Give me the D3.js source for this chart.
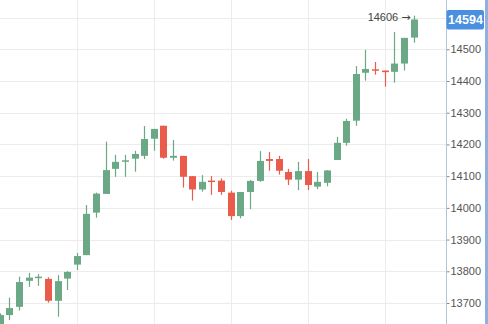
<!DOCTYPE html>
<html>
<head>
<meta charset="utf-8">
<script src="https://cdn.jsdelivr.net/npm/d3@7"></script>
<style>
  body { margin: 0; background: #fff; }
  svg { display: block; font-family: "Liberation Sans", Arial, sans-serif; }
</style>
</head>
<body>
<div id="plot"></div>
<script>
// candle values, one per session
var opens  = [13620,13662,13688,13770,13782,13776,13707,13777,13821,13851,13985,14044,14123,14146,14155,14164,14218,14259,14158,14164,14100,14058,14086,14086,14048,13974,14050,14085,14154,14154,14113,14089,14116,14067,14079,14151,14205,14275,14426,14437,14433,14429,14455,14537];
var highs  = [13668,13717,13783,13795,13791,13781,13788,13800,13858,14009,14048,14209,14167,14167,14180,14258,14249,14259,14214,14164,14100,14103,14100,14093,14054,14050,14088,14179,14176,14164,14123,14145,14154,14113,14119,14224,14281,14447,14498,14460,14433,14555,14536,14606];
var lows   = [13600,13646,13676,13751,13754,13701,13657,13741,13804,13851,13969,14044,14098,14098,14114,14154,14180,14155,14149,14064,14023,14051,14041,14041,13962,13967,13996,14082,14117,14105,14072,14056,14056,14059,14068,14151,14196,14259,14401,14420,14382,14395,14433,14521];
var closes = [13662,13684,13766,13780,13783,13707,13769,13798,13848,13981,14045,14119,14145,14150,14170,14217,14249,14158,14164,14098,14058,14082,14082,14050,13974,14050,14085,14148,14148,14117,14089,14116,14072,14082,14118,14205,14274,14422,14438,14433,14428,14455,14536,14594];
var gridTicks = [13600,13700,13800,13900,14000,14100,14200,14300,14400,14500,14600];
var yTicks = [13700,13800,13900,14000,14100,14200,14300,14400,14500];
var xGrid = [8,16,24,32,40];
var lastPrice = 14594;
var highMark = 14606;

var width = 488, height = 324, axisX = 446.5;
var up = "#6aa886", down = "#eb5b4b";

var svg = d3.select("#plot").append("svg")
    .attr("width", width)
    .attr("height", height);

var x = d3.scaleLinear().domain([0, 43]).range([-0.16, 413.5]);
var y = d3.scaleLinear().domain([13700, 14500]).range([303, 49.3]);

// grid
svg.append("g").selectAll("line.h")
    .data(gridTicks)
    .enter().append("line")
    .attr("x1", 0).attr("x2", axisX)
    .attr("y1", function(d){ return Math.round(y(d)) + 0.5; })
    .attr("y2", function(d){ return Math.round(y(d)) + 0.5; })
    .style("stroke", "#ececec");
svg.append("g").selectAll("line.v")
    .data(xGrid)
    .enter().append("line")
    .attr("x1", function(d){ return Math.round(x(d)) + 0.5; })
    .attr("x2", function(d){ return Math.round(x(d)) + 0.5; })
    .attr("y1", 0).attr("y2", height)
    .style("stroke", "#ececec");

var candles = d3.range(opens.length).map(function(i){
    return {i: i, o: opens[i], h: highs[i], l: lows[i], c: closes[i]};
});

var g = svg.append("g");
g.selectAll(".wick")
    .data(candles)
    .enter().append("line")
    .attr("class", "wick")
    .attr("x1", function(d){ return Math.round(x(d.i)) + 0.5; })
    .attr("x2", function(d){ return Math.round(x(d.i)) + 0.5; })
    .attr("y1", function(d){ return y(d.h); })
    .attr("y2", function(d){ return y(d.l); })
    .style("stroke", function(d){ return d.c >= d.o ? up : down; })
    .style("stroke-width", 1.2);
g.selectAll(".body")
    .data(candles)
    .enter().append("rect")
    .attr("class", "body")
    .attr("x", function(d){ return Math.round(x(d.i)) - 3; })
    .attr("width", 7)
    .attr("y", function(d){ return y(Math.max(d.o, d.c)); })
    .attr("height", function(d){ return Math.max(1.5, Math.abs(y(d.o) - y(d.c))); })
    .style("fill", function(d){ return d.c >= d.o ? up : down; });

// high marker
var hm = svg.append("text")
    .attr("x", x(43) - 3)
    .attr("y", y(highMark) + 5)
    .attr("text-anchor", "end")
    .style("font-size", "11px")
    .style("fill", "#444");
hm.append("tspan").text(highMark + " ");
hm.append("tspan").style("font-family", "'DejaVu Sans', sans-serif").text("\u2192");

// right axis
var axis = svg.append("g").attr("transform", "translate(" + axisX + ",0)")
    .call(d3.axisRight(y).tickValues(yTicks).tickSize(3).tickPadding(1).tickFormat(d3.format("d")));
axis.select(".domain").remove();
axis.selectAll(".tick line").style("stroke", "#888");
axis.selectAll(".tick text").style("font-size", "11px").style("fill", "#555")
    .style("font-family", "'Liberation Sans', Arial, sans-serif");
svg.append("line")
    .attr("x1", axisX).attr("x2", axisX).attr("y1", 0).attr("y2", height)
    .style("stroke", "#b4c4db");
svg.append("rect")
    .attr("x", 485).attr("y", 0).attr("width", 3).attr("height", height)
    .style("fill", "#8fb0e0");

// last price tag
svg.append("rect")
    .attr("x", axisX).attr("y", y(lastPrice) - 9.5)
    .attr("width", 37.5).attr("height", 19.5)
    .attr("rx", 2)
    .style("fill", "#4a8fe0");
svg.append("text")
    .attr("x", axisX + 19)
    .attr("y", y(lastPrice) + 4.5)
    .attr("text-anchor", "middle")
    .style("font-size", "12.5px")
    .style("font-weight", "bold")
    .style("fill", "#fff")
    .text(lastPrice);
</script>
</body>
</html>
